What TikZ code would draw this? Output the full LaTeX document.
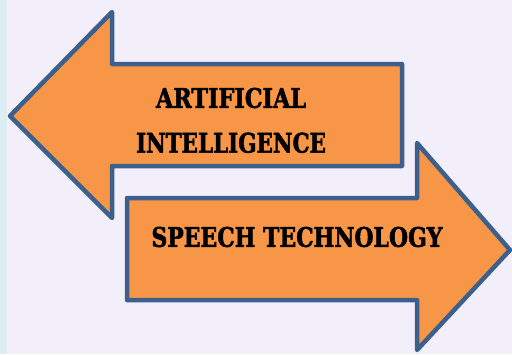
\documentclass[tikz,border=0pt]{standalone}
\usepackage{fontspec}
\setmainfont{DejaVu Serif}
\newfontfamily\heavyfont[BoldFeatures={FakeBold=2}]{DejaVu Serif}
\usepackage{graphicx}
\usetikzlibrary{positioning}
\definecolor{arrowfill}{HTML}{F79646}
\definecolor{arrowline}{HTML}{3C5F8C}
\definecolor{backpaper}{HTML}{F3EFFA}
\definecolor{sidestrip}{HTML}{DCEEF4}

\begin{document}
\begin{tikzpicture}[x=1pt, y=-1pt,
    bigarrow/.style={fill=arrowfill, draw=arrowline, line width=4.5pt, line join=round},
    arrowtext/.style={font=\heavyfont\bfseries, inner sep=0pt}]
\fill[backpaper] (0,0) rectangle (512,354);
\fill[sidestrip] (0,0) rectangle (7,354);
\useasboundingbox (0,0) rectangle (512,354);
% left arrow
\draw[bigarrow] (10,116) -- (112,12) -- (112,64) -- (402,64) -- (402,166)
    -- (112,166) -- (112,218) -- cycle;
% right arrow
\draw[bigarrow] (127,198) -- (417,198) -- (417,143) -- (510,250) -- (417,350)
    -- (417,300) -- (127,300) -- cycle;
\node[arrowtext] (ai1) at (231,98) {\resizebox{150pt}{20pt}{ARTIFICIAL}};
\node[arrowtext, below=24pt of ai1] (ai2) {\resizebox{190pt}{20pt}{INTELLIGENCE}};
\node[arrowtext] (speech) at (297,237) {\resizebox{291pt}{20pt}{SPEECH TECHNOLOGY}};
\end{tikzpicture}
\end{document}
